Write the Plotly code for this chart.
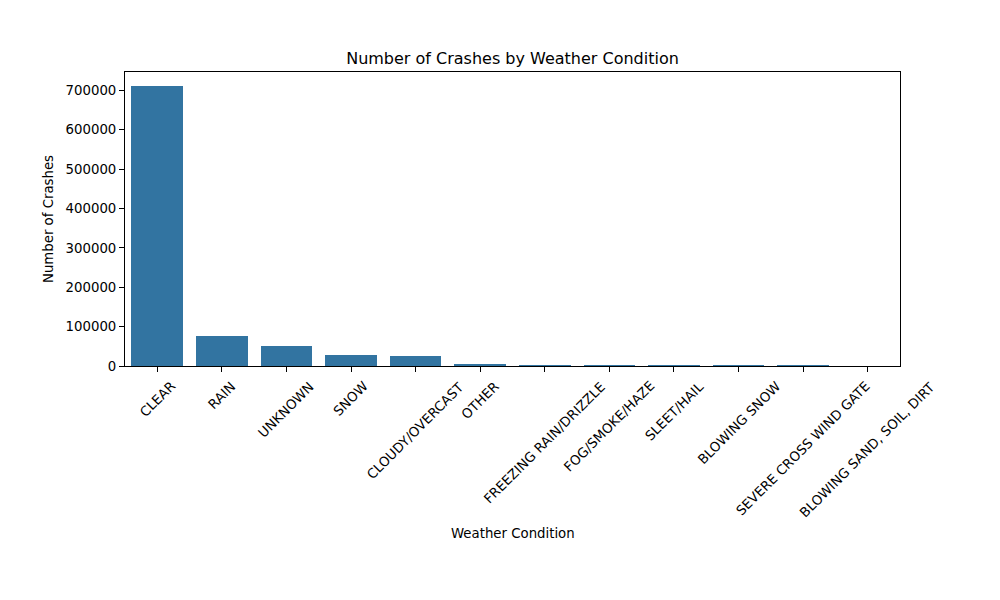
import plotly.graph_objects as go

# crash counts per weather condition
conditions = [
    "CLEAR", "RAIN", "UNKNOWN", "SNOW", "CLOUDY/OVERCAST", "OTHER",
    "FREEZING RAIN/DRIZZLE", "FOG/SMOKE/HAZE", "SLEET/HAIL", "BLOWING SNOW",
    "SEVERE CROSS WIND GATE", "BLOWING SAND, SOIL, DIRT",
]
crashes = [711000, 76000, 51000, 27500, 25000, 2600, 900, 700, 550, 300, 100, 10]
y_ticks = [0, 100000, 200000, 300000, 400000, 500000, 600000, 700000]

FONT = "DejaVu Sans"

fig = go.Figure()
fig.add_trace(go.Bar(
    x=conditions,
    y=crashes,
    width=0.8,
    marker_color="#3274a1",
    marker_line_width=0,
))

# rotated labels centred under each tick, like matplotlib rotation=45
for c in conditions:
    fig.add_annotation(
        x=c, xref="x", y=0, yref="paper",
        text=c, textangle=-45, showarrow=False,
        xanchor="center", yanchor="top", yshift=-10,
        font=dict(family=FONT, size=13.3, color="black"),
    )

fig.add_annotation(
    x=0.5, xref="paper", y=0, yref="paper",
    text="Weather Condition", showarrow=False,
    xanchor="center", yanchor="middle", yshift=-167,
    font=dict(family=FONT, size=13.3, color="black"),
)

# page body adds an 8px offset, so margins are shifted to compensate
fig.update_layout(
    width=1000, height=600,
    margin=dict(l=117, r=108, t=64, b=242),
    paper_bgcolor="white", plot_bgcolor="white",
    font=dict(family=FONT, size=13.3, color="black"),
    title=dict(
        text="Number of Crashes by Weather Condition",
        x=0.5, xanchor="center", xref="paper",
        y=1, yref="paper", yanchor="bottom", pad=dict(b=8),
        font=dict(family=FONT, size=16, color="black"),
    ),
    showlegend=False,
    bargap=0,
)

fig.update_xaxes(
    range=[-0.5, len(conditions) - 0.5],
    showticklabels=False,
    ticks="outside", ticklen=5, tickcolor="black",
    showline=True, linecolor="black", linewidth=1, mirror=True,
    showgrid=False, zeroline=False,
)
fig.update_yaxes(
    range=[0, max(crashes) * 1.05],
    tickvals=y_ticks, tickformat="d",
    ticks="outside", ticklen=5, tickcolor="black",
    showline=True, linecolor="black", linewidth=1, mirror=True,
    showgrid=False, zeroline=False,
    title=dict(text="Number of Crashes", standoff=8,
               font=dict(family=FONT, size=13.3, color="black")),
)

fig.write_html("out.html")
